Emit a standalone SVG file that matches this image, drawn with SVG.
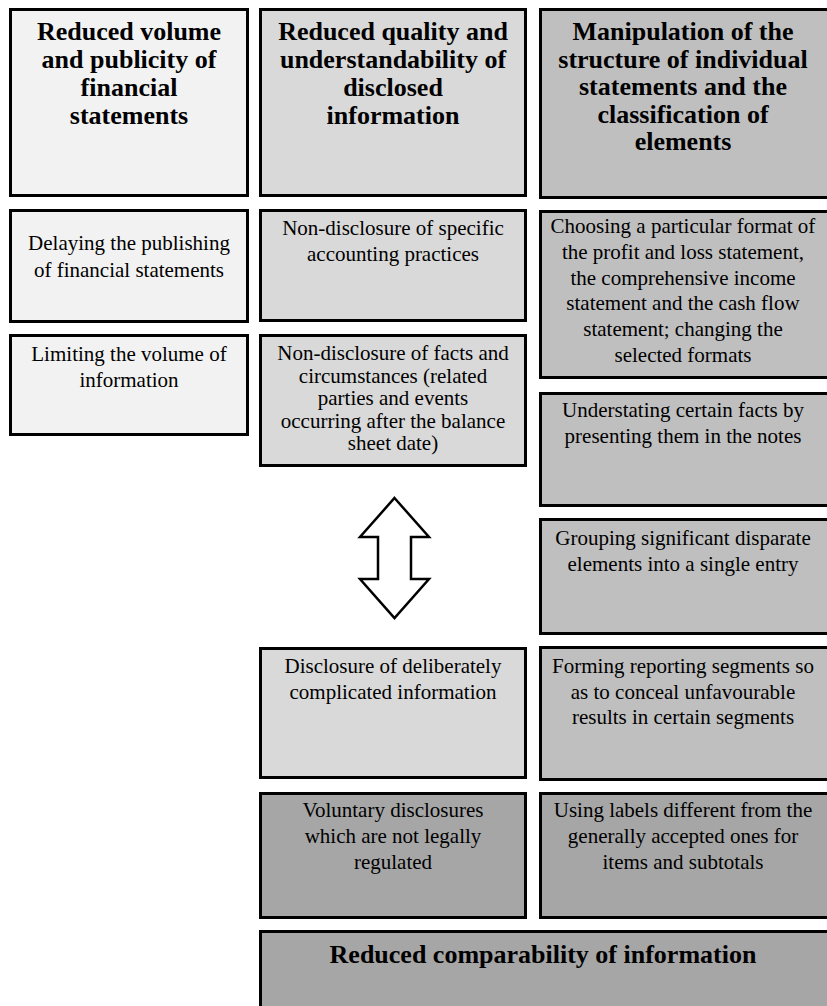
<svg xmlns="http://www.w3.org/2000/svg" width="827" height="1006" viewBox="0 0 827 1006">
<style>
.box{stroke:#000;stroke-width:3}
.c1{fill:#f2f2f2}
.c2{fill:#d9d9d9}
.c3{fill:#bfbfbf}
.c4{fill:#a6a6a6}
text{font-family:"Liberation Serif","Times New Roman",serif;fill:#000;text-anchor:middle}
.h{font-size:26px;font-weight:bold}
.t{font-size:21px}
</style>
<rect x="0" y="0" width="827" height="1006" fill="#fff" stroke="none"/>
<g id="header-volume">
<rect class="box c1" x="10.5" y="9.5" width="237" height="186"/>
<text class="h" x="129" y="40">Reduced volume</text>
<text class="h" x="129" y="68">and publicity of</text>
<text class="h" x="129" y="96">financial</text>
<text class="h" x="129" y="124">statements</text>
</g>
<g id="header-quality">
<rect class="box c2" x="260.5" y="9.5" width="265" height="186"/>
<text class="h" x="393" y="40">Reduced quality and</text>
<text class="h" x="393" y="68">understandability of</text>
<text class="h" x="393" y="96">disclosed</text>
<text class="h" x="393" y="124">information</text>
</g>
<g id="header-manipulation">
<rect class="box c3" x="540.5" y="9.5" width="290" height="188"/>
<text class="h" x="683" y="40">Manipulation of the</text>
<text class="h" x="683" y="67.5">structure of individual</text>
<text class="h" x="683" y="95">statements and the</text>
<text class="h" x="683" y="122.5">classification of</text>
<text class="h" x="683" y="150">elements</text>
</g>
<g id="delaying">
<rect class="box c1" x="10.5" y="210.5" width="237" height="111"/>
<text class="t" x="129" y="250">Delaying the publishing</text>
<text class="t" x="129" y="277">of financial statements</text>
</g>
<g id="limiting">
<rect class="box c1" x="10.5" y="335.5" width="237" height="99"/>
<text class="t" x="129" y="361">Limiting the volume of</text>
<text class="t" x="129" y="387">information</text>
</g>
<g id="nondisclosure-practices">
<rect class="box c2" x="260.5" y="210.5" width="265" height="110"/>
<text class="t" x="393" y="235">Non-disclosure of specific</text>
<text class="t" x="393" y="261">accounting practices</text>
</g>
<g id="nondisclosure-facts">
<rect class="box c2" x="260.5" y="335.5" width="265" height="130"/>
<text class="t" x="393" y="360">Non-disclosure of facts and</text>
<text class="t" x="393" y="382.5">circumstances (related</text>
<text class="t" x="393" y="405">parties and events</text>
<text class="t" x="393" y="427.5">occurring after the balance</text>
<text class="t" x="393" y="450">sheet date)</text>
</g>
<g id="complicated">
<rect class="box c2" x="260.5" y="648.5" width="265" height="129"/>
<text class="t" x="393" y="673">Disclosure of deliberately</text>
<text class="t" x="393" y="699">complicated information</text>
</g>
<g id="voluntary">
<rect class="box c4" x="260.5" y="793.5" width="265" height="124"/>
<text class="t" x="393" y="817">Voluntary disclosures</text>
<text class="t" x="393" y="843">which are not legally</text>
<text class="t" x="393" y="869">regulated</text>
</g>
<g id="choosing-format">
<rect class="box c3" x="540.5" y="211.5" width="290" height="166"/>
<text class="t" x="683" y="233">Choosing a particular format of</text>
<text class="t" x="683" y="259">the profit and loss statement,</text>
<text class="t" x="683" y="284.5">the comprehensive income</text>
<text class="t" x="683" y="310">statement and the cash flow</text>
<text class="t" x="683" y="336">statement; changing the</text>
<text class="t" x="683" y="362">selected formats</text>
</g>
<g id="understating">
<rect class="box c3" x="540.5" y="393.5" width="290" height="112"/>
<text class="t" x="683" y="417">Understating certain facts by</text>
<text class="t" x="683" y="443">presenting them in the notes</text>
</g>
<g id="grouping">
<rect class="box c3" x="540.5" y="519.5" width="290" height="114"/>
<text class="t" x="683" y="545">Grouping significant disparate</text>
<text class="t" x="683" y="571">elements into a single entry</text>
</g>
<g id="segments">
<rect class="box c3" x="540.5" y="647.5" width="290" height="132"/>
<text class="t" x="683" y="673">Forming reporting segments so</text>
<text class="t" x="683" y="699">as to conceal unfavourable</text>
<text class="t" x="683" y="724">results in certain segments</text>
</g>
<g id="labels">
<rect class="box c4" x="540.5" y="793.5" width="290" height="124"/>
<text class="t" x="683" y="817">Using labels different from the</text>
<text class="t" x="683" y="843">generally accepted ones for</text>
<text class="t" x="683" y="869">items and subtotals</text>
</g>
<g id="comparability">
<rect class="box c4" x="260.5" y="931.5" width="570" height="100"/>
<text class="h" x="543" y="963">Reduced comparability of information</text>
</g>
<g id="connectors">
<path d="M394.5,498 L429,537 L411,537 L411,579 L429,579 L394.5,618 L360,579 L378,579 L378,537 L360,537 Z" fill="#fff" stroke="#000" stroke-width="2.5" stroke-linejoin="miter"/>
</g>
</svg>
